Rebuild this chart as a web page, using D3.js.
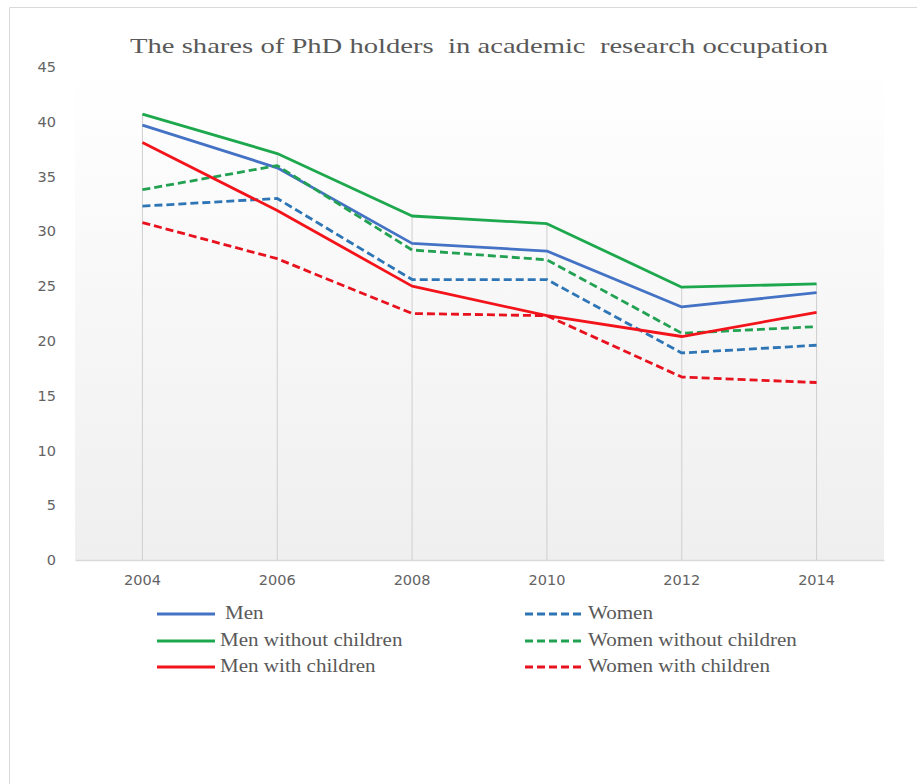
<!DOCTYPE html>
<html>
<head>
<meta charset="utf-8">
<script src="https://cdn.jsdelivr.net/npm/d3@7"></script>
<style>
  html, body { margin: 0; padding: 0; background: #ffffff; }
  svg { display: block; }
  text { white-space: pre; }
</style>
</head>
<body>
<svg id="chart" width="917" height="784"></svg>
<script>
const years = ["2004", "2006", "2008", "2010", "2012", "2014"];
const men = [39.7, 35.8, 28.9, 28.2, 23.1, 24.4];
const women = [32.3, 33.0, 25.6, 25.6, 18.9, 19.6];
const menWithout = [40.7, 37.1, 31.4, 30.7, 24.9, 25.2];
const womenWithout = [33.8, 36.0, 28.3, 27.4, 20.7, 21.3];
const menWith = [38.1, 31.9, 25.0, 22.3, 20.4, 22.6];
const womenWith = [30.8, 27.5, 22.5, 22.3, 16.7, 16.2];
const seriesNames = ["Men", "Women", "Men without children", "Women without children", "Men with children", "Women with children"];
const yTicks = [0, 5, 10, 15, 20, 25, 30, 35, 40, 45];
const titleText = "The shares of PhD holders  in academic  research occupation";

const seriesValues = [men, women, menWithout, womenWithout, menWith, womenWith];
const colors = ["#4472c4", "#2e75b6", "#1ea84e", "#22a152", "#f2141a", "#e8121f"];
const dashed = [false, true, false, true, false, true];

const svg = d3.select("#chart");

// outer border
svg.append("line").attr("x1", 9.5).attr("x2", 917).attr("y1", 7.5).attr("y2", 7.5).attr("stroke", "#d9d9d9");
svg.append("line").attr("x1", 9.5).attr("x2", 9.5).attr("y1", 7.5).attr("y2", 784).attr("stroke", "#d9d9d9");

const plot = { left: 75, right: 884, top: 67, bottom: 560 };

const x = d3.scaleBand().domain(years).range([plot.left, plot.right]).paddingInner(0).paddingOuter(0);
const xc = d => x(d) + x.bandwidth() / 2;
const y = d3.scaleLinear().domain([0, 45]).range([plot.bottom, plot.top]);

// plot background gradient
const defs = svg.append("defs");
const grad = defs.append("linearGradient").attr("id", "bg").attr("x1", 0).attr("x2", 0).attr("y1", 0).attr("y2", 1);
grad.append("stop").attr("offset", "0%").attr("stop-color", "#ffffff");
grad.append("stop").attr("offset", "100%").attr("stop-color", "#efefef");
svg.append("rect")
  .attr("x", plot.left).attr("y", y(45))
  .attr("width", plot.right - plot.left).attr("height", y(0) - y(45))
  .attr("fill", "url(#bg)");

// title
svg.append("text")
  .attr("x", 479).attr("y", 53)
  .attr("text-anchor", "middle")
  .attr("font-family", "Liberation Serif, serif")
  .attr("font-size", 21)
  .attr("fill", "#595959")
  .attr("textLength", 698)
  .attr("lengthAdjust", "spacingAndGlyphs")
  .text(titleText);

// y axis labels
const yAxis = d3.axisLeft(y).tickValues(yTicks).tickSize(0).tickPadding(0);
const gy = svg.append("g").attr("transform", `translate(56,0)`).call(yAxis);
gy.select(".domain").remove();
gy.selectAll("text").attr("font-family", "DejaVu Sans, sans-serif").attr("font-size", 14.5).attr("fill", "#636363");

// x axis
const xAxis = d3.axisBottom(x).tickSize(0).tickPadding(15);
const gx = svg.append("g").attr("transform", `translate(0,${plot.bottom})`).call(xAxis);
gx.select(".domain").attr("stroke", "#d9d9d9").attr("stroke-width", 1.5);
gx.selectAll("text").attr("font-family", "DejaVu Sans, sans-serif").attr("font-size", 14.5).attr("fill", "#636363");

// drop lines
const maxByYear = years.map((yr, i) => d3.max(seriesValues, s => s[i]));
svg.append("g").selectAll("line").data(years).join("line")
  .attr("x1", d => xc(d)).attr("x2", d => xc(d))
  .attr("y1", (d, i) => y(maxByYear[i])).attr("y2", y(0))
  .attr("stroke", "#cfcfcf").attr("stroke-width", 1);

// lines
const line = d3.line().x((d, i) => xc(years[i])).y(d => y(d));
const gl = svg.append("g");
seriesValues.forEach((vals, k) => {
  gl.append("path")
    .attr("d", line(vals))
    .attr("fill", "none")
    .attr("stroke", colors[k])
    .attr("stroke-width", 2.8)
    .attr("stroke-linejoin", "round")
    .attr("stroke-dasharray", dashed[k] ? "8,4" : null);
});

// legend
const legendCols = [157, 525];
const legendRows = [614, 641, 667];
const lg = svg.append("g");
seriesNames.forEach((name, k) => {
  const col = k % 2, row = Math.floor(k / 2);
  const lx = legendCols[col], ly = legendRows[row];
  lg.append("line")
    .attr("x1", lx).attr("x2", lx + 58)
    .attr("y1", ly).attr("y2", ly)
    .attr("stroke", colors[k]).attr("stroke-width", 2.8)
    .attr("stroke-dasharray", dashed[k] ? "8,4" : null);
  const t = lg.append("text")
    .attr("x", k === 0 ? lx + 68 : lx + 63)
    .attr("y", ly + 5)
    .attr("font-family", "Liberation Serif, serif")
    .attr("font-size", 18)
    .attr("fill", "#595959")
    .text(name);
  const len = t.node().getComputedTextLength();
  t.attr("textLength", len * 1.17).attr("lengthAdjust", "spacingAndGlyphs");
});
</script>
</body>
</html>
